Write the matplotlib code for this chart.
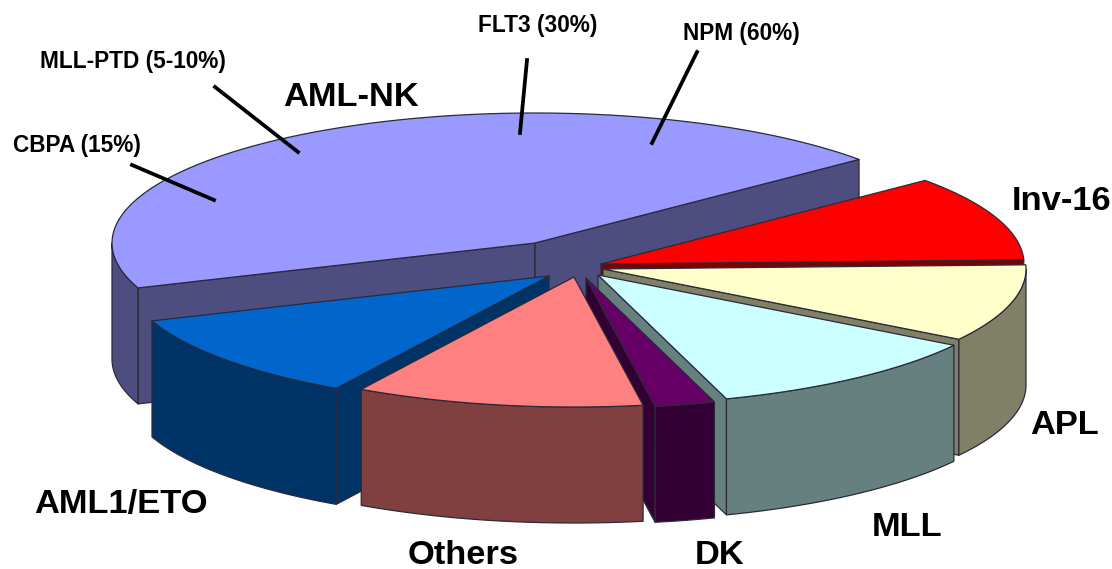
import numpy as np
import matplotlib
matplotlib.use('Agg')
import matplotlib.pyplot as plt

# share of each subtype, clockwise starting from the upper right
subtypes = ['Inv-16', 'APL', 'MLL', 'DK', 'Others', 'AML1/ETO', 'AML-NK']
shares = [10.6, 9.6, 11.0, 2.3, 11.0, 11.0, 44.5]

colors = ['#FF0000', '#FFFFCC', '#CCFFFF', '#660066', '#FF8080', '#0066CC', '#9999FF']
wall_colors = ['#800000', '#808066', '#668080', '#330033', '#804040', '#003366', '#4D4D80']

# layout of the fake 3d pie, in pixels
start_angle = 40
rx, ry = 423, 130
thick = 116
apex_x = [601, 603, 598, 586, 574, 549, 535]
apex_y = [264, 269, 275, 278, 277, 276, 243]
draw_order = [6, 0, 1, 5, 2, 3, 4]

label_names = ['AML-NK', 'Inv-16', 'APL', 'MLL', 'DK', 'Others', 'AML1/ETO']
label_x = [351, 1062, 1065, 907, 720, 463, 121]
label_y = [97, 201, 425, 527, 555, 555, 505]

mutations = ['FLT3 (30%)', 'NPM (60%)', 'MLL-PTD (5-10%)', 'CBPA (15%)']
mutation_x = [538, 741, 133, 77]
mutation_y = [25, 33, 61, 145]
leaders = [((527, 60), (520, 133)), ((697, 52), (652, 143)),
           ((215, 87), (298, 152)), ((132, 165), (214, 200))]

plt.rcParams['font.family'] = ['Liberation Sans', 'DejaVu Sans']

fig = plt.figure(figsize=(11.12, 5.69), dpi=100)
ax = fig.add_axes([0, 0, 1, 1])
ax.set_xlim(0, 1112)
ax.set_ylim(569, 0)
ax.axis('off')

edge = dict(edgecolor='#2a2a3a', linewidth=0.9, joinstyle='round')


def arc(cx, cy, a0, a1):
    t = np.radians(np.linspace(a0, a1, 120))
    return cx + rx * np.cos(t), cy - ry * np.sin(t)


def radial_wall(cx, cy, a, color):
    ex = cx + rx * np.cos(np.radians(a))
    ey = cy - ry * np.sin(np.radians(a))
    ax.fill([cx, ex, ex, cx], [cy, ey, ey + thick, cy + thick], facecolor=color, **edge)


angles = start_angle - np.cumsum([0] + shares) * 3.6
for i in draw_order:
    a0, a1 = angles[i], angles[i + 1]   # a1 < a0, clockwise
    cx, cy = apex_x[i], apex_y[i]

    # flat cut faces, only the ones turned to the viewer
    if np.sin(np.radians(a0 + 90)) < 0:
        radial_wall(cx, cy, a0, wall_colors[i])
    if np.sin(np.radians(a1 - 90)) < 0:
        radial_wall(cx, cy, a1, wall_colors[i])

    # outer rim, front part only
    lo, hi = max(a1, -180), min(a0, 0)
    if lo < hi:
        xs, ys = arc(cx, cy, lo, hi)
        ax.fill(np.r_[xs, xs[::-1]], np.r_[ys, ys[::-1] + thick], facecolor=wall_colors[i], **edge)

    # top face
    xs, ys = arc(cx, cy, a0, a1)
    ax.fill(np.r_[cx, xs], np.r_[cy, ys], facecolor=colors[i], **edge)

for name, x, y in zip(label_names, label_x, label_y):
    ax.text(x, y, name, ha='center', va='center', fontsize=24.8, fontweight='bold', color='black')

for name, x, y in zip(mutations, mutation_x, mutation_y):
    ax.text(x, y, name, ha='center', va='center', fontsize=16.3, fontweight='bold', color='black')

for p0, p1 in leaders:
    ax.plot([p0[0], p1[0]], [p0[1], p1[1]], color='black', linewidth=2.7)

fig.savefig('out.png', dpi=100, facecolor='white')
